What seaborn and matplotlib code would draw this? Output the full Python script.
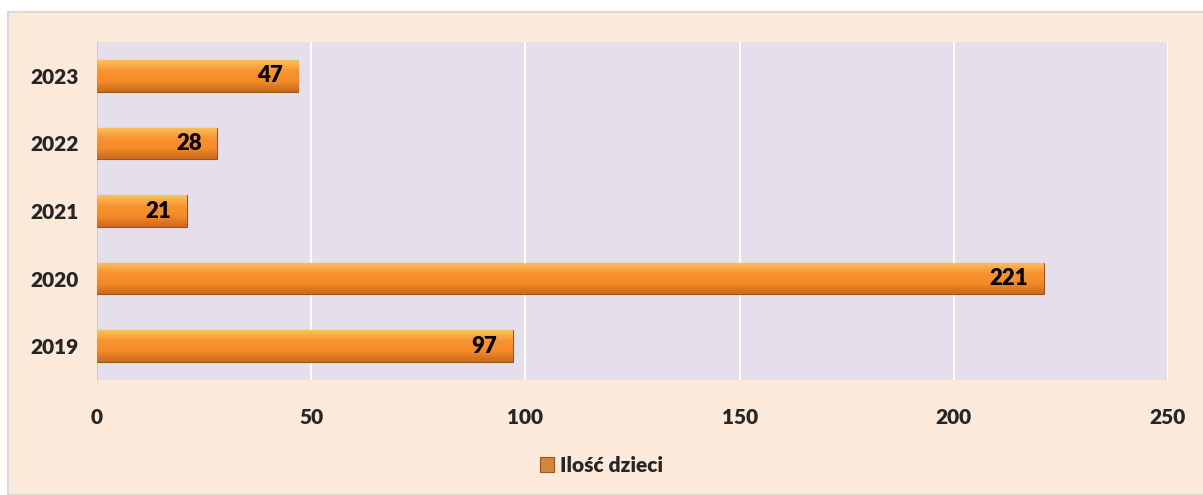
import numpy as np
import pandas as pd
import matplotlib.pyplot as plt
import seaborn as sns
from matplotlib.patches import Rectangle
from matplotlib.colors import LinearSegmentedColormap

# dane
lata = ["2023", "2022", "2021", "2020", "2019"]
ilosc = [47, 28, 21, 221, 97]
ticki_x = [0, 50, 100, 150, 200, 250]
seria = "Ilość dzieci"

df = pd.DataFrame({"rok": lata, "ilosc": ilosc})

sns.set_style("white")
plt.rcParams["font.family"] = ["Lato", "DejaVu Sans"]
plt.rcParams["font.weight"] = "heavy"

fig = plt.figure(figsize=(12.03, 4.95), dpi=100, facecolor="white")
# tlo wykresu (brzoskwiniowe)
fig.patches.append(Rectangle((8 / 1203, 0), 1, 1 - 12 / 495, transform=fig.transFigure,
                             facecolor="#FDEADB", edgecolor="#D9D9D9", linewidth=1.5, zorder=-10))

ax = fig.add_axes([97 / 1203, 1 - 380 / 495, (1168 - 97) / 1203, (380 - 42) / 495])
ax.set_facecolor("#E5DFEC")

sns.barplot(data=df, x="ilosc", y="rok", orient="h", color="#E8862A", width=0.47,
            edgecolor="#9C5418", linewidth=0.8, ax=ax, label=seria, zorder=3)

# gradient na slupkach
grad = LinearSegmentedColormap.from_list("g", ["#FCC15A", "#F89432", "#F58A26", "#C9691F"])
for p in ax.patches:
    x0, y0 = p.get_x(), p.get_y()
    w, h = p.get_width(), p.get_height()
    im = ax.imshow(np.linspace(0, 1, 64).reshape(-1, 1), cmap=grad, aspect="auto",
                   extent=[x0, x0 + w, y0 + h, y0], zorder=3.5)
    im.set_clip_path(p)

ax.set_xlim(0, 250)
ax.set_xticks(ticki_x)
ax.set_ylim(len(lata) - 0.5, -0.5)
ax.grid(axis="x", color="white", linewidth=1.5, zorder=0)
ax.set_axisbelow(True)
for s in ["top", "right", "bottom"]:
    ax.spines[s].set_visible(False)
ax.spines["left"].set_color("#D0CCD6")

ax.tick_params(axis="both", length=0, labelsize=15)
ax.tick_params(axis="x", pad=20)
ax.tick_params(axis="y", pad=13)
for t in ax.get_xticklabels() + ax.get_yticklabels():
    t.set_fontweight("heavy")
ax.set_xlabel("")
ax.set_ylabel("")

for i, v in enumerate(ilosc):
    ax.annotate(str(v), xy=(v, i), xytext=(-11, 0), textcoords="offset points",
                ha="right", va="center", fontsize=16, fontweight="heavy", color="black", zorder=5)

leg = ax.legend(loc="center", bbox_to_anchor=(0.5, 1 - 465 / 495), bbox_transform=fig.transFigure,
                frameon=False, prop={"size": 15, "weight": "heavy"},
                handlelength=0.7, handleheight=0.7, handletextpad=0.3)

fig.savefig("out.png", dpi=100, facecolor=fig.get_facecolor())
